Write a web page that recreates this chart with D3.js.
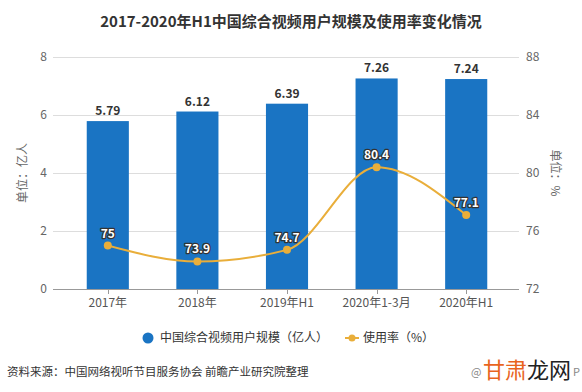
<!DOCTYPE html>
<html><head><meta charset="utf-8">
<script src="https://cdn.jsdelivr.net/npm/d3@7"></script>
<style>body{margin:0;background:#fff;} svg{display:block;font-family:"Noto Sans CJK SC","Noto Sans",sans-serif;}</style>
</head><body><svg id="c" width="582" height="392"></svg>
<script>
const categories = ["2017年","2018年","2019年H1","2020年1-3月","2020年H1"];
const users = [5.79, 6.12, 6.39, 7.26, 7.24];
const rate = [75, 73.9, 74.7, 80.4, 77.1];
const leftTicks = [0,2,4,6,8];
const rightTicks = [72,76,80,84,88];
const title = "2017-2020年H1中国综合视频用户规模及使用率变化情况";
const seriesNames = ["中国综合视频用户规模（亿人）","使用率（%）"];
const source = "资料来源：中国网络视听节目服务协会 前瞻产业研究院整理";

const barColor = "#1a74c3", lineColor = "#e9ae3a";
const svg = d3.select("#c");
const L = 53, R = 519, T = 57, B = 289;

const x = d3.scaleBand().domain(categories).range([63, 511]).paddingInner(0.53).paddingOuter(0.265);
const yL = d3.scaleLinear().domain([0,8]).range([B,T]);
const yR = d3.scaleLinear().domain([72,88]).range([B,T]);

svg.append("text").attr("x",291).attr("y",27).attr("text-anchor","middle")
  .attr("font-size",15).attr("font-weight","bold").attr("fill","#333").text(title);

// grid
svg.append("g").selectAll("line").data(leftTicks.slice(1)).join("line")
  .attr("x1",L).attr("x2",R).attr("y1",d=>Math.round(yL(d))+0.5).attr("y2",d=>Math.round(yL(d))+0.5)
  .attr("stroke","#ddd");
// tick labels
svg.append("g").selectAll("text").data(leftTicks).join("text")
  .attr("x",47).attr("y",d=>yL(d)+4).attr("text-anchor","end").attr("font-size",12).attr("fill","#666").text(d=>d);
svg.append("g").selectAll("text").data(rightTicks).join("text")
  .attr("x",526).attr("y",d=>yR(d)+4).attr("text-anchor","start").attr("font-size",12).attr("fill","#666").text(d=>d);

// bars
svg.append("g").selectAll("rect").data(users).join("rect")
  .attr("x",(d,i)=>x(categories[i])).attr("width",x.bandwidth())
  .attr("y",d=>yL(d)).attr("height",d=>B-yL(d)).attr("fill",barColor);
svg.append("g").selectAll("text").data(users).join("text")
  .attr("x",(d,i)=>x(categories[i])+x.bandwidth()/2).attr("y",d=>yL(d)-6)
  .attr("text-anchor","middle").attr("font-size",12).attr("font-weight","bold").attr("fill","#333")
  .text(d=>d.toFixed(2));

// x axis
svg.append("line").attr("x1",L).attr("x2",R).attr("y1",B+0.5).attr("y2",B+0.5).attr("stroke","#999");
svg.append("g").selectAll("line").data(categories).join("line")
  .attr("x1",d=>Math.round(x(d)+x.bandwidth()/2)+0.5).attr("x2",d=>Math.round(x(d)+x.bandwidth()/2)+0.5)
  .attr("y1",B).attr("y2",B+5).attr("stroke","#999");
svg.append("g").selectAll("text").data(categories).join("text")
  .attr("x",d=>x(d)+x.bandwidth()/2).attr("y",307).attr("text-anchor","middle")
  .attr("font-size",12).attr("fill","#555").text(d=>d);

// line
const pts = rate.map((v,i)=>[x(categories[i])+x.bandwidth()/2, yR(v)]);
svg.append("path").attr("d", d3.line().curve(d3.curveMonotoneX)(pts))
  .attr("fill","none").attr("stroke",lineColor).attr("stroke-width",2);
svg.append("g").selectAll("circle").data(pts).join("circle")
  .attr("cx",d=>d[0]).attr("cy",d=>d[1]).attr("r",4).attr("fill",lineColor);
svg.append("g").selectAll("text").data(rate).join("text")
  .attr("x",(d,i)=>pts[i][0]).attr("y",(d,i)=>pts[i][1]-8).attr("text-anchor","middle")
  .attr("font-size",12).attr("font-weight","bold").attr("fill","#fff")
  .attr("stroke","#333").attr("stroke-width",2.5).attr("paint-order","stroke").attr("stroke-linejoin","round")
  .text(d=>d);

// axis titles
svg.append("text").attr("transform","translate(27,173) rotate(-90)").attr("text-anchor","middle")
  .attr("font-size",12).attr("fill","#666").text("单位：亿人");
svg.append("text").attr("transform","translate(551,173) rotate(90)").attr("text-anchor","middle")
  .attr("font-size",12).attr("fill","#666").text("单位：%");

// legend
const lg = svg.append("g");
lg.append("circle").attr("cx",148).attr("cy",338).attr("r",5.5).attr("fill",barColor);
lg.append("text").attr("x",160).attr("y",342).attr("font-size",12).attr("fill","#333").text(seriesNames[0]);
lg.append("line").attr("x1",345).attr("x2",359).attr("y1",338).attr("y2",338).attr("stroke",lineColor).attr("stroke-width",2);
lg.append("circle").attr("cx",352).attr("cy",338).attr("r",3.5).attr("fill",lineColor);
lg.append("text").attr("x",363).attr("y",342).attr("font-size",12).attr("fill","#333").text(seriesNames[1]);

// source
svg.append("text").attr("x",7).attr("y",376).attr("font-size",11.5).attr("fill","#333").text(source);
svg.append("text").attr("x",471).attr("y",376).attr("font-size",11).attr("fill","#888").text("@");
svg.append("text").attr("x",573).attr("y",376).attr("font-size",11).attr("fill","#888").text("P");
const wm = svg.append("text").attr("x",483).attr("y",378).attr("font-size",22);
wm.append("tspan").attr("fill","#e8641e").text("甘肃");
wm.append("tspan").attr("fill","#222").text("龙网");
</script></body></html>
